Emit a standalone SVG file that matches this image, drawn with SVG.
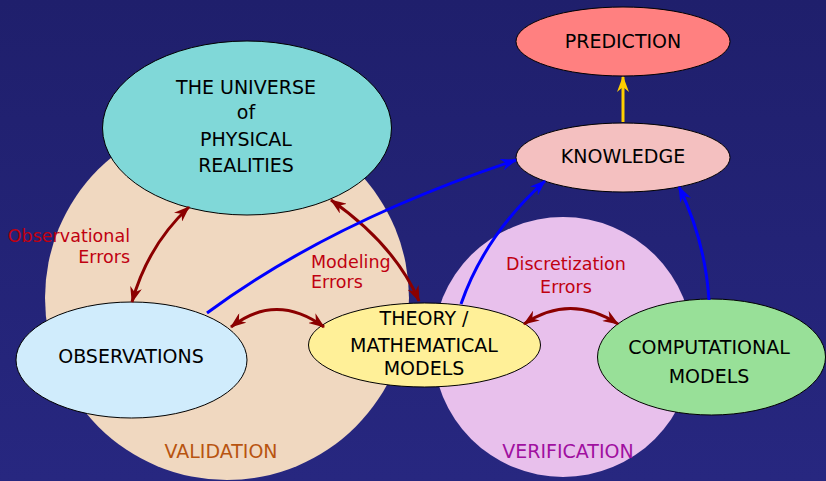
<svg xmlns="http://www.w3.org/2000/svg" width="826" height="481" viewBox="0 0 826 481">
<defs>
<linearGradient id="bg" x1="0" y1="0" x2="0" y2="1">
<stop offset="0" stop-color="#1f1f6c"/>
<stop offset="1" stop-color="#272780"/>
</linearGradient>
<marker id="ar" viewBox="0 0 16 12" refX="15" refY="6" markerWidth="16" markerHeight="12" markerUnits="userSpaceOnUse" orient="auto-start-reverse">
<path d="M0,0 L16,6 L0,12 L5,6 z" fill="#8b0000"/>
</marker>
<marker id="ab" viewBox="0 0 16 12" refX="15" refY="6" markerWidth="16" markerHeight="12" markerUnits="userSpaceOnUse" orient="auto">
<path d="M0,0 L16,6 L0,12 L5,6 z" fill="#0000ff"/>
</marker>
<marker id="ay" viewBox="0 0 16 12" refX="15" refY="6" markerWidth="16" markerHeight="12" markerUnits="userSpaceOnUse" orient="auto">
<path d="M0,0 L16,6 L0,12 L5,6 z" fill="#ffd000"/>
</marker>
</defs>
<style>
text{font-family:"DejaVu Sans","Liberation Sans",sans-serif;font-size:19px;}
.n{fill:#000;text-anchor:middle;}
.e{fill:#c00010;font-size:17.5px;}
.node{stroke:#000;stroke-width:1;}
.red{fill:none;stroke:#8b0000;stroke-width:3;marker-start:url(#ar);marker-end:url(#ar);}
.blue{fill:none;stroke:#0000ff;stroke-width:3;marker-end:url(#ab);}
.yel{fill:none;stroke:#ffd000;stroke-width:3;marker-end:url(#ay);}
</style>
<rect width="826" height="481" fill="url(#bg)"/>
<g id="validation">
<circle cx="227" cy="298" r="182" fill="#f0d8c0"/>
<text x="221" y="458" text-anchor="middle" fill="#b85410">VALIDATION</text>
</g>
<g id="verification">
<circle cx="563" cy="347" r="130" fill="#e8c0ec"/>
<text x="568" y="458" text-anchor="middle" fill="#a010a0">VERIFICATION</text>
</g>
<g id="labels">
<text class="e" x="130" y="242" text-anchor="end">Observational</text>
<text class="e" x="130" y="263" text-anchor="end">Errors</text>
<text class="e" x="311" y="268">Modeling</text>
<text class="e" x="311" y="288">Errors</text>
<text class="e" x="566" y="270" text-anchor="middle">Discretization</text>
<text class="e" x="566" y="293" text-anchor="middle">Errors</text>
</g>
<g id="universe">
<ellipse class="node" cx="247" cy="128" rx="144.5" ry="87" fill="#80d8d8"/>
<text class="n" x="246" y="94">THE UNIVERSE</text>
<text class="n" x="246" y="119">of</text>
<text class="n" x="246" y="146">PHYSICAL</text>
<text class="n" x="246" y="172">REALITIES</text>
</g>
<g id="observations">
<ellipse class="node" cx="131.5" cy="360" rx="115.5" ry="58" fill="#d0ecfc"/>
<text class="n" x="131" y="363">OBSERVATIONS</text>
</g>
<g id="theory">
<ellipse class="node" cx="424.5" cy="345" rx="116" ry="42" fill="#fff098"/>
<text class="n" x="424" y="325">THEORY /</text>
<text class="n" x="424" y="352">MATHEMATICAL</text>
<text class="n" x="424" y="375">MODELS</text>
</g>
<g id="computational">
<ellipse class="node" cx="711.5" cy="357" rx="114" ry="58" fill="#98e098"/>
<text class="n" x="709" y="354">COMPUTATIONAL</text>
<text class="n" x="709" y="383">MODELS</text>
</g>
<g id="knowledge">
<ellipse class="node" cx="623" cy="157.5" rx="107" ry="34.5" fill="#f4c0c0"/>
<text class="n" x="623" y="163">KNOWLEDGE</text>
</g>
<g id="prediction">
<ellipse class="node" cx="623" cy="41.5" rx="107" ry="34.5" fill="#ff8080"/>
<text class="n" x="623" y="48">PREDICTION</text>
</g>
<g id="connectors">
<path class="red" d="M132,302 Q148,245 189,207"/>
<path class="red" d="M331,200 Q395,245 419,301"/>
<path class="red" d="M231,327 Q276,292 324,327"/>
<path class="red" d="M524,324 Q570,293 618,324"/>
<path class="blue" d="M207,313 Q330,222 516,160"/>
<path class="blue" d="M461,304 Q485,235 545,181"/>
<path class="blue" d="M709,300 Q705,240 679,187"/>
<path class="yel" d="M623,122 L623,77"/>
</g>
</svg>
